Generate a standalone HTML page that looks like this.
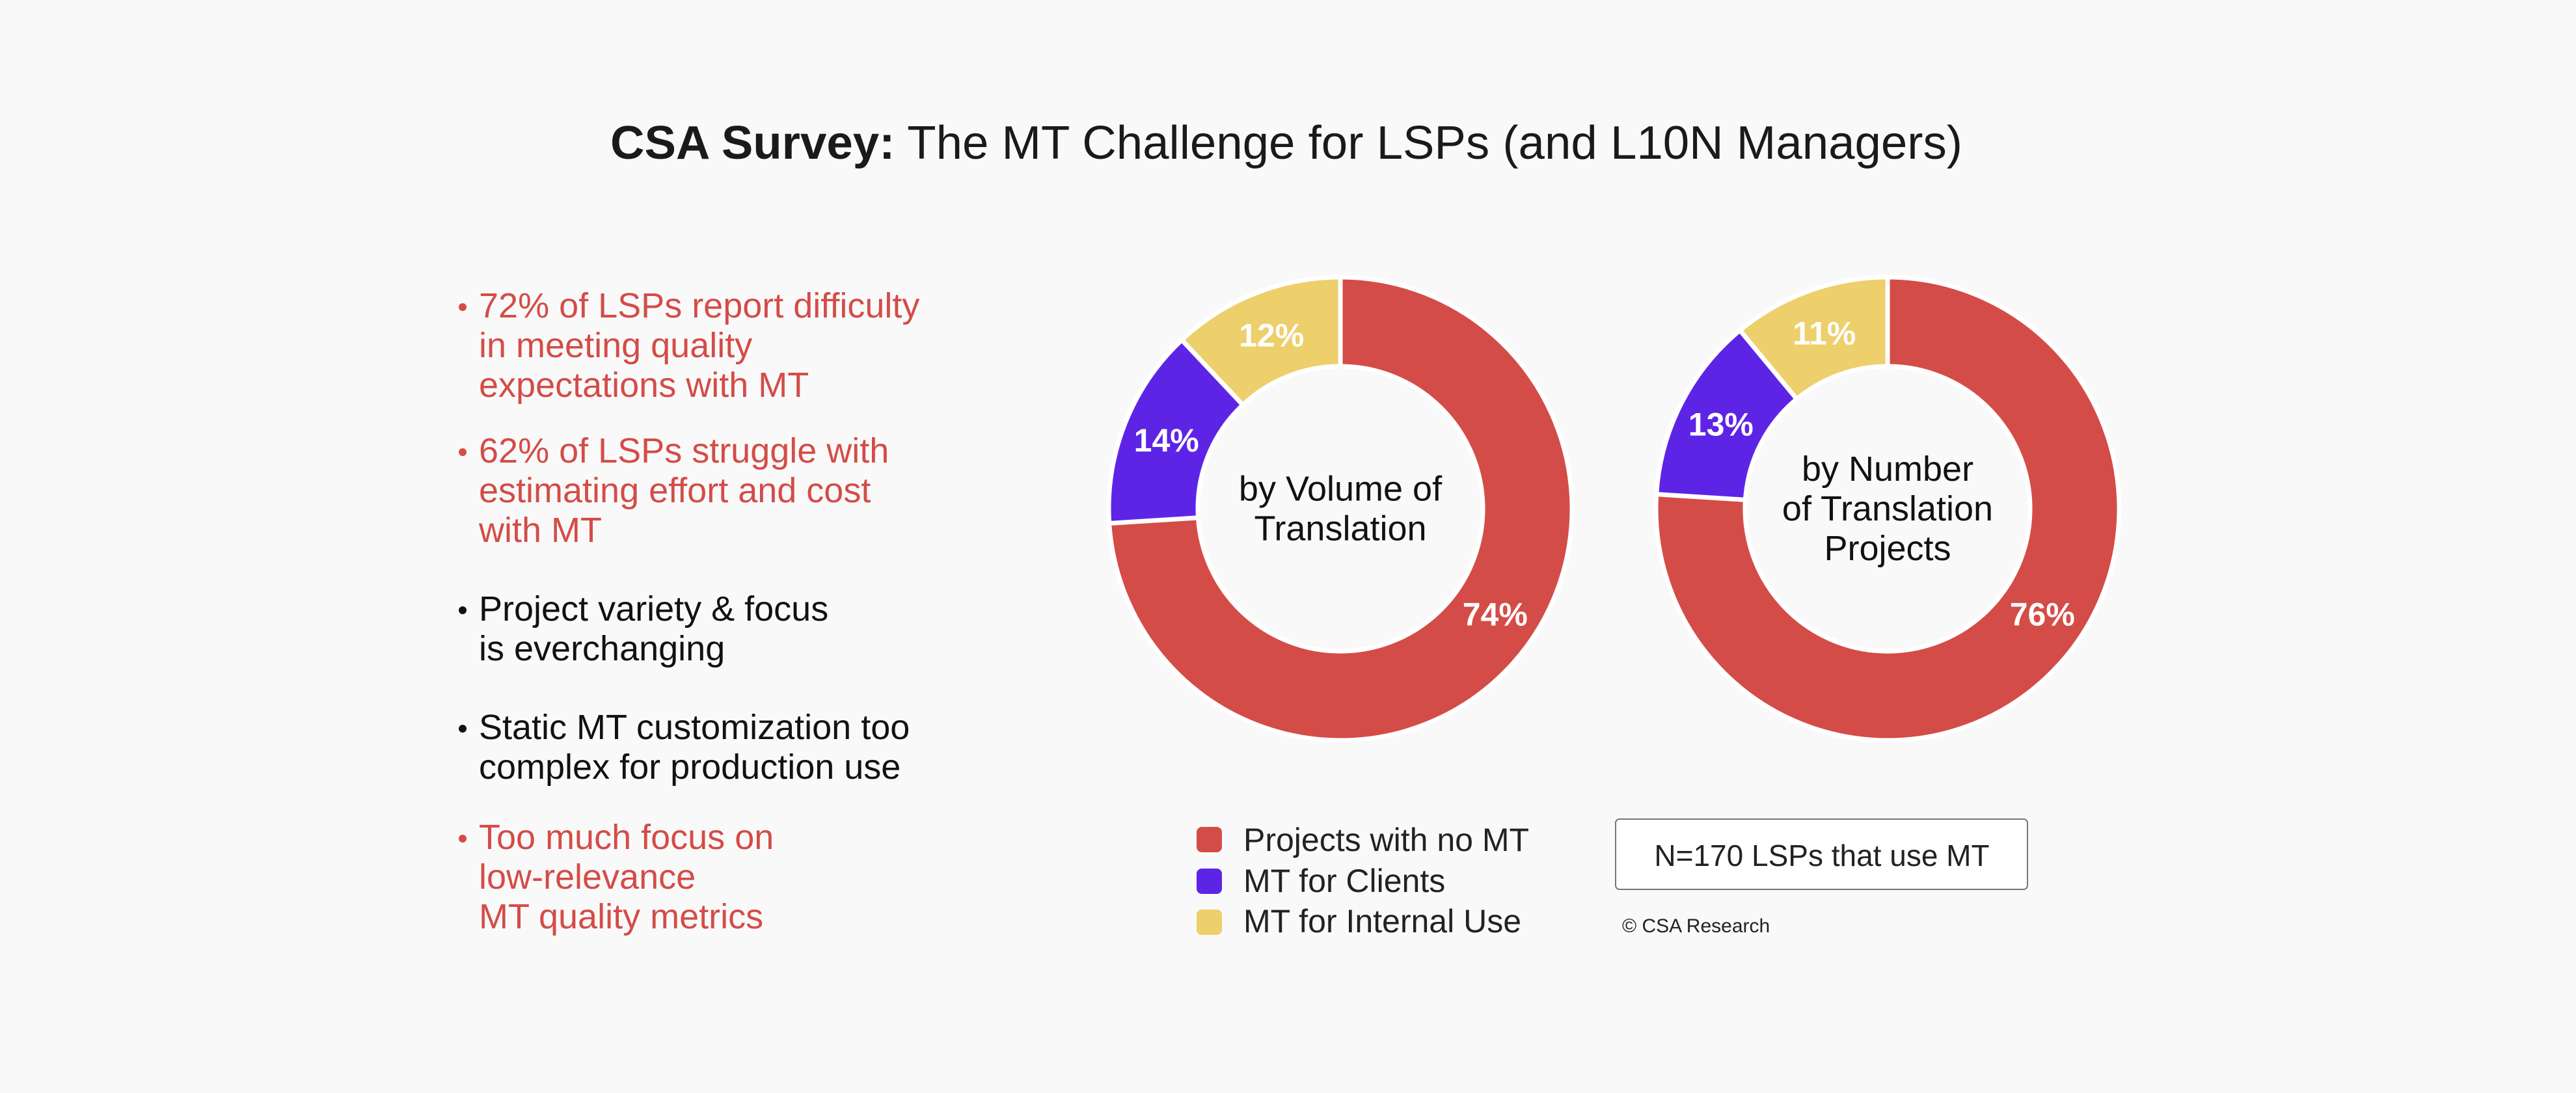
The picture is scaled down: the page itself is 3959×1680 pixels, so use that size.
<!DOCTYPE html>
<html><head><meta charset="utf-8"><style>
html,body{margin:0;padding:0;background:#f9f9f9;}
svg{display:block;font-family:"Liberation Sans",sans-serif;}
</style></head><body>
<svg id="chart" width="3959" height="1680" viewBox="0 0 3959 1680">
<rect width="3959" height="1680" fill="#f9f9f9"/>
<text x="938" y="244" font-size="72" fill="#1a1a1a" textLength="2078" lengthAdjust="spacingAndGlyphs"><tspan font-weight="bold">CSA Survey:</tspan> The MT Challenge for LSPs (and L10N Managers)</text>
<g id="bullets"></g>
<g id="donuts"></g>
<g>
 <rect x="1839" y="1271" width="39" height="39" rx="8" fill="#d44c47"/>
 <text x="1911" y="1308" font-size="50" fill="#222">Projects with no MT</text>
 <rect x="1839" y="1335" width="39" height="39" rx="8" fill="#5e24e6"/>
 <text x="1911" y="1371" font-size="50" fill="#222">MT for Clients</text>
 <rect x="1839" y="1398" width="39" height="39" rx="8" fill="#edcf6b"/>
 <text x="1911" y="1433" font-size="50" fill="#222">MT for Internal Use</text>
</g>
<rect x="2483" y="1259" width="633" height="108" rx="6" fill="#fff" stroke="#777" stroke-width="2"/>
<text x="2800" y="1331" font-size="46" fill="#222" text-anchor="middle">N=170 LSPs that use MT</text>
<text x="2493" y="1433" font-size="30" fill="#222">© CSA Research</text>
</svg>
<script>
const NS = 'http://www.w3.org/2000/svg';
const svg = document.getElementById('chart');
const categories = ['Projects with no MT', 'MT for Clients', 'MT for Internal Use'];
const volumeValues = [74, 14, 12];
const projectValues = [76, 13, 11];
const colors = ['#d44c47', '#5e24e6', '#edcf6b'];

const bulletLines = [
 {c:'#d44c47', lines:['72% of LSPs report difficulty','in meeting quality','expectations with MT'], y:488},
 {c:'#d44c47', lines:['62% of LSPs struggle with','estimating effort and cost','with MT'], y:711},
 {c:'#111', lines:['Project variety & focus','is everchanging'], y:954},
 {c:'#111', lines:['Static MT customization too','complex for production use'], y:1136},
 {c:'#d44c47', lines:['Too much focus on','low-relevance','MT quality metrics'], y:1305}
];
const bg = document.getElementById('bullets');
bulletLines.forEach((b, i) => {
  const dot = document.createElementNS(NS, 'circle');
  dot.setAttribute('cx', 711); dot.setAttribute('cy', b.y - 16); dot.setAttribute('r', 6);
  dot.setAttribute('fill', b.c);
  
  
  bg.appendChild(dot);
  b.lines.forEach((l, j) => {
    const t = document.createElementNS(NS, 'text');
    t.setAttribute('x', 736); t.setAttribute('y', b.y + j * 61);
    t.setAttribute('font-size', 54); t.setAttribute('fill', b.c);
    t.textContent = l;
    
    
    bg.appendChild(t);
  });
});

const dg = document.getElementById('donuts');
const R = 356, r = 219;
function pt(cx, cy, rad, frac) {
  const a = frac * 2 * Math.PI;
  return [cx + rad * Math.sin(a), cy - rad * Math.cos(a)];
}
function donut(cx, cy, values, centerLines, name) {
  const g = document.createElementNS(NS, 'g');
  
  
  dg.appendChild(g);
  const total = values.reduce((a, b) => a + b, 0);
  let acc = 0;
  values.forEach((v, i) => {
    const f0 = acc / total, f1 = (acc + v) / total; acc += v;
    const large = (f1 - f0) > 0.5 ? 1 : 0;
    const [x0, y0] = pt(cx, cy, R, f0), [x1, y1] = pt(cx, cy, R, f1);
    const [x2, y2] = pt(cx, cy, r, f1), [x3, y3] = pt(cx, cy, r, f0);
    const p = document.createElementNS(NS, 'path');
    p.setAttribute('d', `M${x0},${y0} A${R},${R} 0 ${large} 1 ${x1},${y1} L${x2},${y2} A${r},${r} 0 ${large} 0 ${x3},${y3} Z`);
    p.setAttribute('fill', colors[i]); p.setAttribute('stroke', '#fff'); p.setAttribute('stroke-width', 7);
    
    
    g.appendChild(p);
    let mid = (f0 + f1) / 2;
    if (f1 - f0 > 0.5) mid = f0 + 0.345;
    const [lx, ly] = pt(cx, cy, (R + r) / 2, mid);
    const t = document.createElementNS(NS, 'text');
    t.setAttribute('x', lx); t.setAttribute('y', ly + 18);
    t.setAttribute('text-anchor', 'middle'); t.setAttribute('font-size', 50);
    t.setAttribute('font-weight', 'bold'); t.setAttribute('fill', '#fff');
    t.textContent = v + '%';
    
    
    g.appendChild(t);
  });
  const n = centerLines.length;
  centerLines.forEach((l, j) => {
    const t = document.createElementNS(NS, 'text');
    t.setAttribute('x', cx); t.setAttribute('y', cy + 18 + (j - (n - 1) / 2) * 61);
    t.setAttribute('text-anchor', 'middle'); t.setAttribute('font-size', 54); t.setAttribute('fill', '#111');
    t.textContent = l;
    
    
    g.appendChild(t);
  });
}
donut(2060, 782, volumeValues, ['by Volume of', 'Translation'], 'donut-by-volume');
donut(2901, 782, projectValues, ['by Number', 'of Translation', 'Projects'], 'donut-by-projects');
</script>
</body></html>
